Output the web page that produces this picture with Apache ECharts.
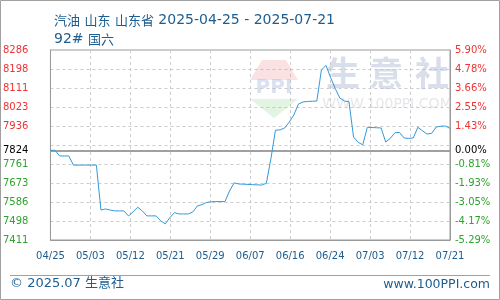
<!DOCTYPE html>
<html>
<head>
<meta charset="utf-8">
<script src="https://cdn.jsdelivr.net/npm/echarts@6/dist/echarts.min.js"></script>
<style>
html,body{margin:0;padding:0;background:#fff;}
#c{width:500px;height:300px;}
</style>
</head>
<body>
<div id="c"></div>
<script>
// ---- data ----
const titleLine1 = '汽油 山东 山东省 2025-04-25 - 2025-07-21';
const titleLine2 = '92# 国六';
const footerLeft = '© 2025.07 生意社';
const footerRight = 'www.100PPI.com';
const xLabels = ['04/25','05/03','05/12','05/21','05/29','06/07','06/16','06/24','07/03','07/12','07/21'];
const yLabelsLeft = ['7411','7498','7586','7673','7761','','7936','8023','8111','8198','8286'];
const yLabelsRight = ['-5.29%','-4.17%','-3.05%','-1.93%','-0.81%','','1.43%','2.55%','3.66%','4.78%','5.90%'];
const baseValue = 7824;
const baseLabelLeft = '7824';
const baseLabelRight = '0.00%';
const yMin = 7411;
const yMax = 8286;
const yStep = 87.5;
const xStep = 8.7;   // days between x ticks
const dayCount = 87; // 04-25 .. 07-21
// daily prices, 2025-04-25 .. 2025-07-21
const prices = [
  7824,7824,7798,7798,7798,7756,7756,7756,7756,7756,
  7756,7549,7554,7549,7545,7545,7545,7522,7541,7562,
  7545,7522,7522,7522,7500,7485,7514,7537,7531,7531,
  7531,7540,7568,7574,7584,7587,7588,7588,7588,7637,
  7674,7669,7668,7667,7666,7665,7664,7672,7785,7917,
  7918,7927,7954,7987,8037,8047,8049,8050,8051,8194,
  8215,8159,8109,8065,8051,8048,7885,7861,7849,7930,
  7929,7928,7927,7862,7879,7905,7906,7881,7879,7881,
  7930,7914,7899,7902,7931,7935,7936,7925
];

// ---- chart ----
const chart = echarts.init(document.getElementById('c'), null, {renderer: 'canvas'});
const seriesData = prices.map((v, i) => [i, v - yMin]);
const blue = '#1d5d8f';
const red = '#ee3333';
const green = '#2ea32e';
const numFont = 'DejaVu Sans';

// title: CJK runs at 13px, latin runs at 14px
function richTitle(s) {
  return s.split(/([\u4e00-\u9fff]+)/).filter(p => p.length).map(p =>
    /[\u4e00-\u9fff]/.test(p) ? '{c|' + p + '}' : '{d|' + p + '}').join('');
}

function leftFmt(v) {
  const i = Math.round(v / yStep);
  const t = yLabelsLeft[i];
  if (!t) return '';
  return (i < 5 ? '{g|' : '{r|') + t + '}';
}
function rightFmt(v) {
  const i = Math.round(v / yStep);
  const t = yLabelsRight[i];
  if (!t) return '';
  return (i < 5 ? '{g|' : '{r|') + t + '}';
}
const richColors = {g: {color: green, fontFamily: numFont, fontSize: 10}, r: {color: red, fontFamily: numFont, fontSize: 10}};

const option = {
  animation: false,
  backgroundColor: '#fff',
  title: {
    text: richTitle(titleLine1) + '\n' + richTitle(titleLine2),
    left: 49, top: 6,
    textStyle: {
      fontSize: 13, fontWeight: 'normal', color: blue, lineHeight: 19,
      rich: {
        c: {fontSize: 13, color: blue, fontFamily: 'Noto Sans CJK SC', lineHeight: 19},
        d: {fontSize: 14, color: blue, fontFamily: 'DejaVu Sans', lineHeight: 19}
      }
    }
  },
  grid: {left: 50, right: 50, top: 50, bottom: 60, show: true, borderColor: '#9a9a9a', borderWidth: 1, containLabel: false},
  xAxis: {
    type: 'value', min: 0, max: dayCount, interval: xStep,
    axisLine: {show: true, lineStyle: {color: '#9a9a9a'}},
    axisTick: {show: false},
    axisLabel: {
      margin: 11, fontSize: 10, fontFamily: numFont, color: blue,
      formatter: v => xLabels[Math.round(v / xStep)] || '',
      showMinLabel: true, showMaxLabel: true
    },
    splitLine: {show: true, lineStyle: {color: '#cccccc', type: [3, 3]}}
  },
  yAxis: [
    {
      type: 'value', min: 0, max: yMax - yMin, interval: yStep, position: 'left',
      axisLine: {show: true, lineStyle: {color: '#9a9a9a'}},
      axisTick: {show: false},
      axisLabel: {margin: 22, formatter: leftFmt, rich: richColors, showMinLabel: true, showMaxLabel: true},
      splitLine: {show: true, lineStyle: {color: '#cccccc', type: [3, 3]}}
    },
    {
      type: 'value', min: 0, max: yMax - yMin, interval: yStep, position: 'right',
      axisLine: {show: true, lineStyle: {color: '#9a9a9a'}},
      axisTick: {show: false},
      axisLabel: {margin: 5, align: 'left', formatter: rightFmt, rich: richColors, showMinLabel: true, showMaxLabel: true},
      splitLine: {show: false}
    }
  ],
  series: [{
    type: 'line',
    data: seriesData,
    showSymbol: false,
    symbol: 'none',
    z: 5,
    lineStyle: {color: '#3399db', width: 1},
    markLine: {
      silent: true,
      symbol: 'none',
      animation: false,
      lineStyle: {color: '#9a9a9a', type: 'solid', width: 1.5},
      data: [
        {yAxis: baseValue - yMin, label: {show: true, position: 'start', distance: 22, formatter: baseLabelLeft, color: '#000', fontSize: 10, fontFamily: numFont}},
        {yAxis: baseValue - yMin, label: {show: true, position: 'end', distance: 5, formatter: baseLabelRight, color: '#000', fontSize: 10, fontFamily: numFont}}
      ]
    }
  }],
  graphic: [
    // outer frame
    {type: 'rect', shape: {x: 0.5, y: 0.5, width: 499, height: 299}, style: {fill: 'none', stroke: '#a0a0a0', lineWidth: 1}, z: 0, silent: true},
    // footer separator
    {type: 'line', shape: {x1: 10, y1: 275.5, x2: 490, y2: 275.5}, style: {stroke: '#a0a0a0', lineWidth: 1}, silent: true},
    {type: 'text', left: 10, top: 277, style: {text: footerLeft, fill: blue, font: '13px "DejaVu Sans", "Noto Sans CJK SC"'}, silent: true},
    {type: 'text', right: 10, top: 278, style: {text: footerRight, fill: blue, font: '12.5px "DejaVu Sans"'}, silent: true},
    // watermark logo
    {type: 'polygon', shape: {points: [[250, 80], [262, 60], [286, 60], [298, 80]]}, style: {fill: 'rgba(240,140,140,0.25)'}, z: 1, silent: true},
    {type: 'text', x: 274, y: 88, style: {text: 'PPI', fill: 'rgba(150,170,220,0.35)', font: 'bold 20px "DejaVu Sans"', textAlign: 'center', textVerticalAlign: 'middle'}, z: 1, silent: true},
    {type: 'polygon', shape: {points: [[250, 99], [298, 99], [274, 118]]}, style: {fill: 'rgba(140,210,140,0.25)'}, z: 1, silent: true},
    {type: 'text', x: 343, y: 73, style: {text: '生', fill: 'rgba(180,190,215,0.5)', font: 'bold 34px "Noto Sans CJK SC"', textAlign: 'center', textVerticalAlign: 'middle'}, z: 1, silent: true},
    {type: 'text', x: 386, y: 73, style: {text: '意', fill: 'rgba(180,190,215,0.5)', font: 'bold 34px "Noto Sans CJK SC"', textAlign: 'center', textVerticalAlign: 'middle'}, z: 1, silent: true},
    {type: 'text', x: 432, y: 73, style: {text: '社', fill: 'rgba(180,190,215,0.5)', font: 'bold 34px "Noto Sans CJK SC"', textAlign: 'center', textVerticalAlign: 'middle'}, z: 1, silent: true},
    {type: 'text', x: 387, y: 104, style: {text: 'WWW.100PPI.COM', fill: 'rgba(200,200,210,0.45)', font: '14px "DejaVu Sans"', textAlign: 'center', textVerticalAlign: 'middle'}, z: 1, silent: true}
  ]
};
chart.setOption(option);
</script>
</body>
</html>
